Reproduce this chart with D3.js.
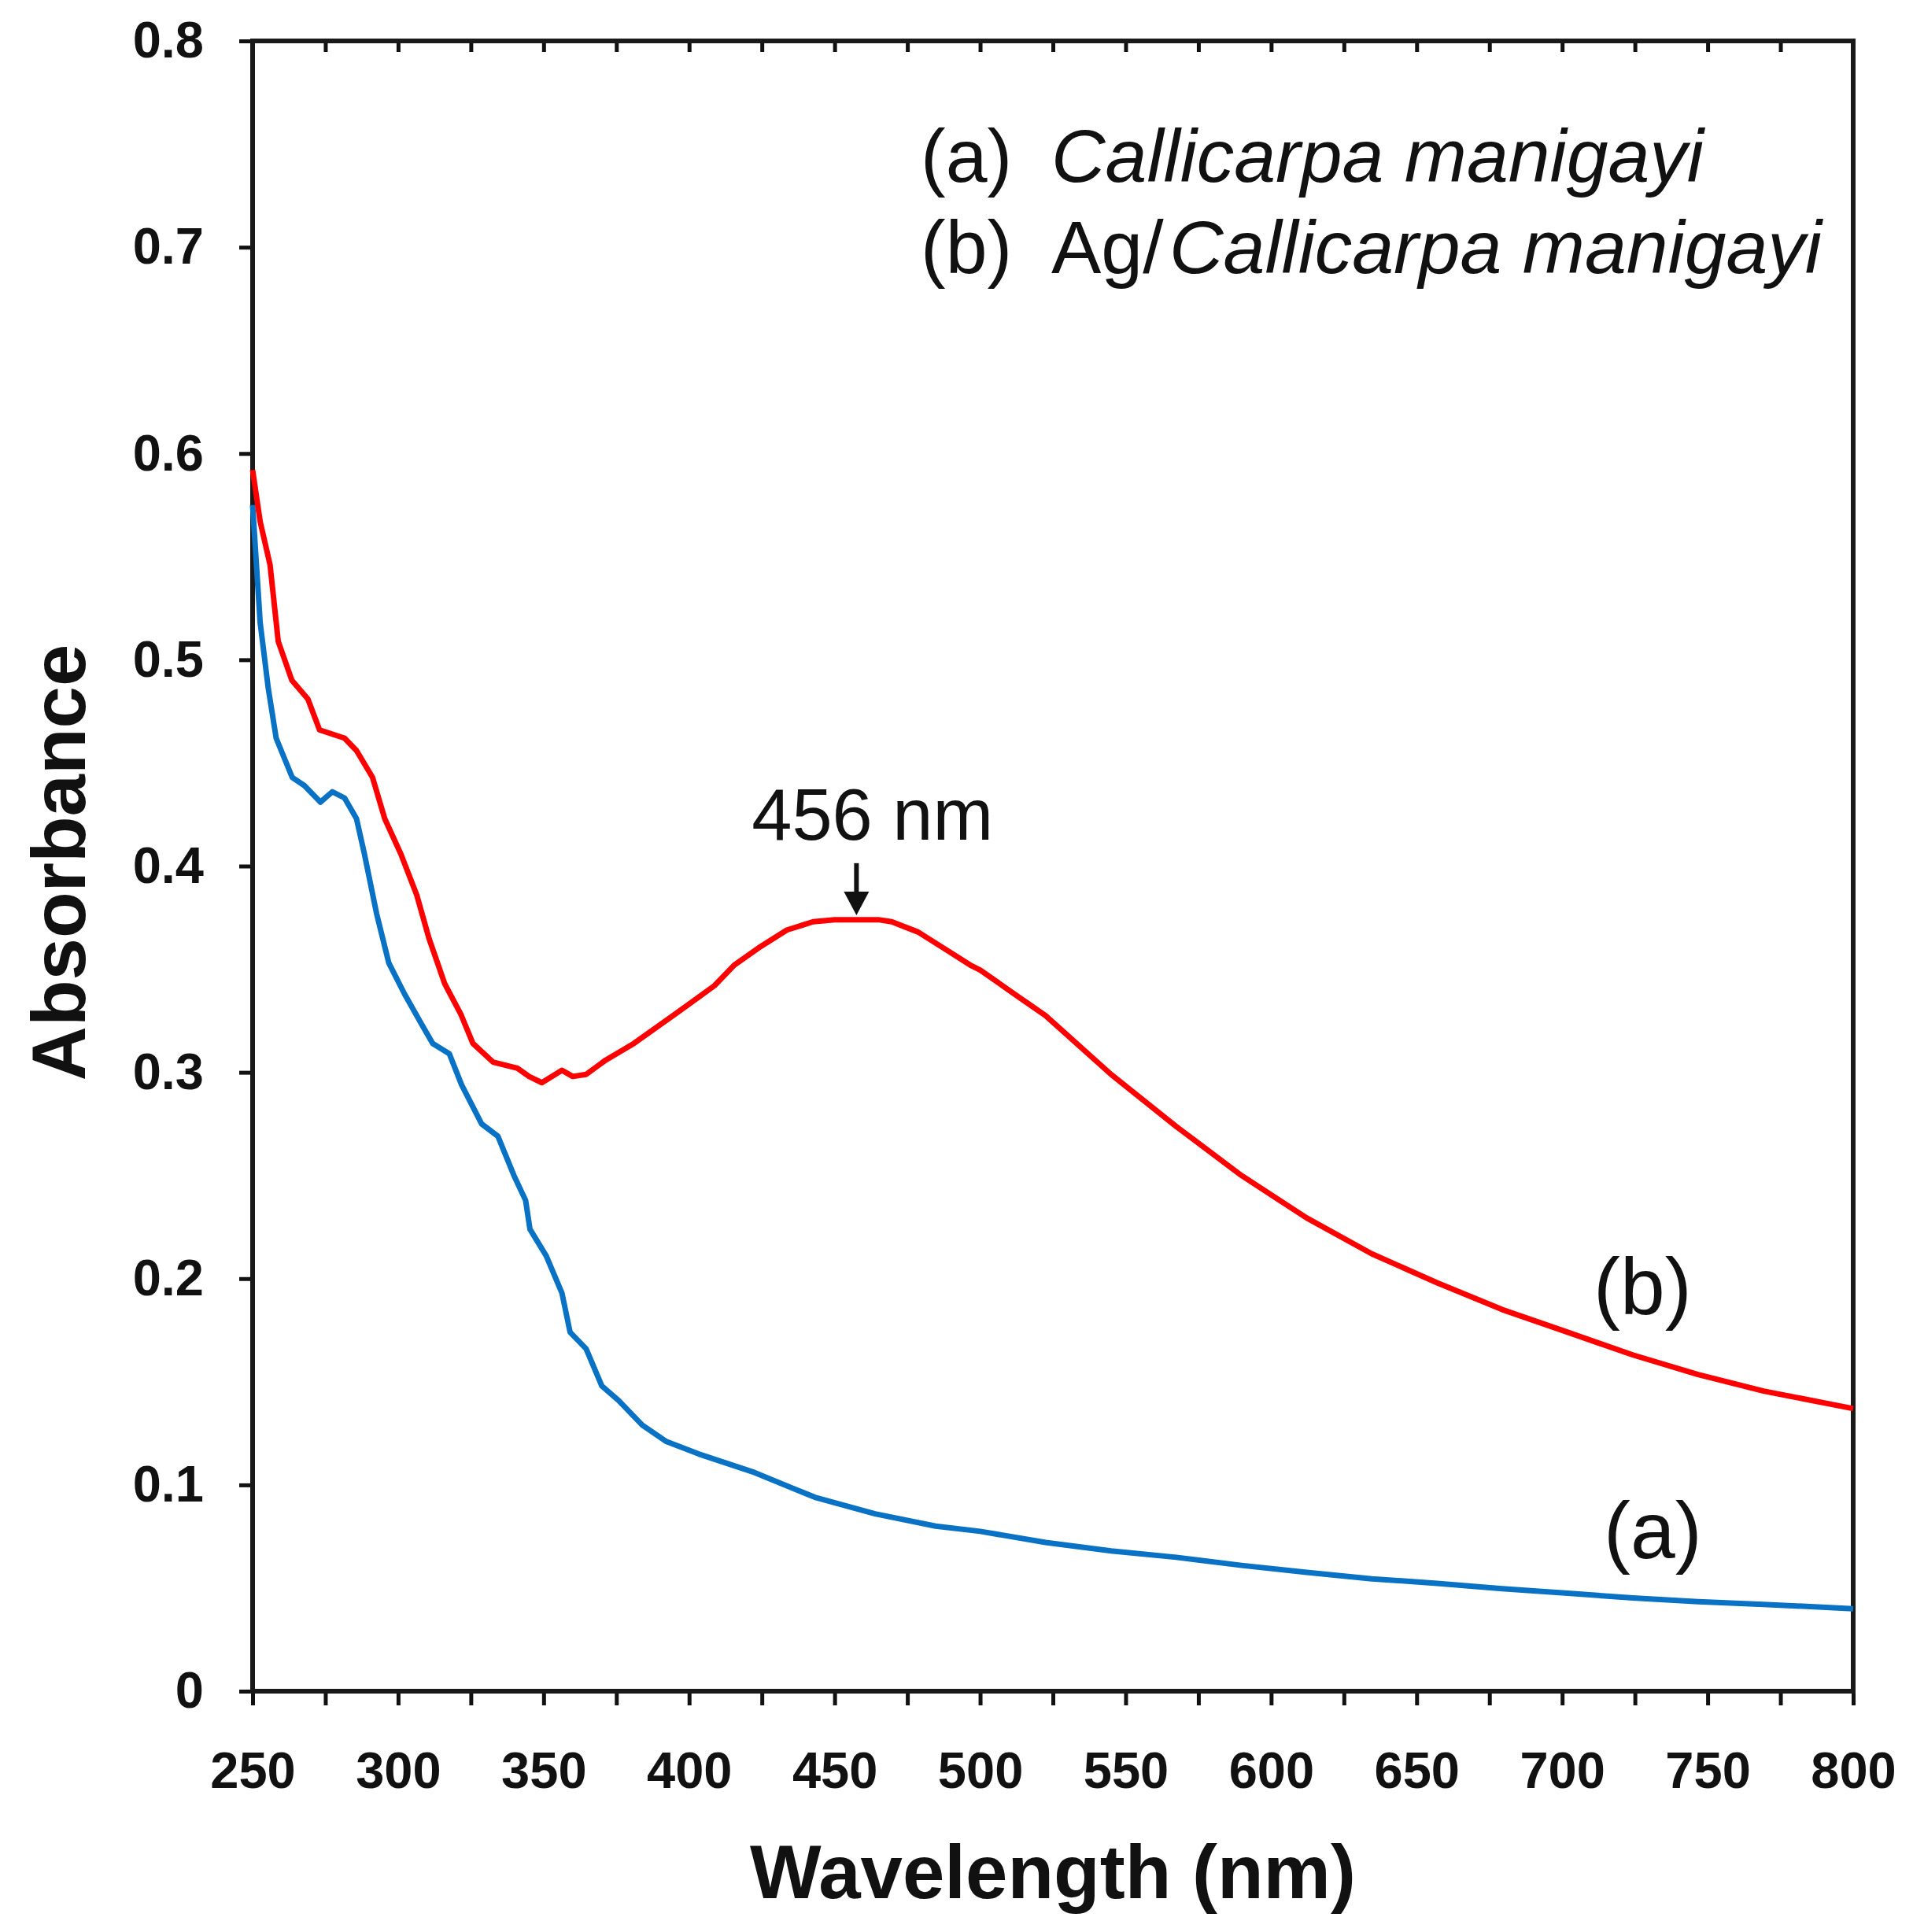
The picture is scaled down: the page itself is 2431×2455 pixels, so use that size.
<!DOCTYPE html>
<html>
<head>
<meta charset="utf-8">
<script src="https://cdn.jsdelivr.net/npm/d3@7"></script>
<style>
  body { margin: 0; background: #fff; }
  svg { display: block; }
  text { font-family: "Liberation Sans", Arial, sans-serif; }
</style>
</head>
<body>
<svg id="chart"></svg>
<script>
// (a) Callicarpa manigayi extract
var wavelengthA = [250, 252.6, 255.4, 258.1, 263.6, 267.8, 273.3, 277.4, 281.6, 285.7,
  288.4, 292.6, 296.8, 302.2, 307.8, 311.9, 317.6, 321.8, 328.7, 334.3,
  339.8, 343.8, 345.3, 350.9, 356.3, 359.1, 364.6, 370, 375.7, 383.9,
  392.2, 403.3, 422.5, 443.2, 463.9, 484.7, 500, 522.5, 545, 567.4,
  589.8, 612.2, 634.6, 657, 679.4, 701.9, 724.3, 746.7, 769.2, 800];
var absorbA = [0.575, 0.518, 0.486, 0.462, 0.443, 0.439, 0.431, 0.436, 0.433, 0.423,
  0.406, 0.377, 0.353, 0.338, 0.324, 0.314, 0.309, 0.294, 0.275, 0.269,
  0.250, 0.238, 0.224, 0.211, 0.193, 0.174, 0.166, 0.148, 0.141, 0.129,
  0.121, 0.115, 0.106, 0.094, 0.086, 0.080, 0.0775, 0.0721, 0.068, 0.0649,
  0.061, 0.0576, 0.0545, 0.0523, 0.0497, 0.0475, 0.0452, 0.0434, 0.0421, 0.040];

// (b) Ag/Callicarpa manigayi
var wavelengthB = [250, 252.6, 256, 258.8, 263.5, 269, 273, 281.6, 285.7, 291.2,
  295.4, 300.9, 306.4, 310.6, 316, 321.6, 325.7, 332.6, 341, 345,
  349.4, 356.3, 360, 364.6, 371.4, 381, 395, 408.7, 415.5, 424.6,
  433.6, 442.6, 450, 457, 465, 469.6, 478.7, 487.7, 496.6, 500,
  513.8, 522.5, 545, 567.4, 589.8, 612.2, 634.6, 657, 679.4, 701.9,
  724.3, 746.7, 769.2, 800];
var absorbB = [0.592, 0.567, 0.546, 0.509, 0.490, 0.481, 0.466, 0.462, 0.456, 0.443,
  0.423, 0.406, 0.386, 0.365, 0.343, 0.328, 0.314, 0.305, 0.302, 0.298,
  0.295, 0.301, 0.298, 0.299, 0.306, 0.314, 0.328, 0.342, 0.352, 0.361,
  0.369, 0.373, 0.374, 0.374, 0.374, 0.373, 0.368, 0.360, 0.352, 0.3496,
  0.336, 0.3275, 0.299, 0.2737, 0.250, 0.2294, 0.212, 0.198, 0.185, 0.174,
  0.163, 0.1535, 0.1455, 0.137];

var xTicks = d3.range(250, 801, 25);
var xLabels = [250, 300, 350, 400, 450, 500, 550, 600, 650, 700, 750, 800];
var yTicks = [0, 0.1, 0.2, 0.3, 0.4, 0.5, 0.6, 0.7, 0.8];
var yLabels = ["0", "0.1", "0.2", "0.3", "0.4", "0.5", "0.6", "0.7", "0.8"];

var peakWavelength = 456;

var W = 2431, H = 2455;
var margin = {top: 52, right: 76, bottom: 306, left: 321};

var svg = d3.select("#chart").attr("width", W).attr("height", H);

var x = d3.scaleLinear().domain([250, 800]).range([margin.left, W - margin.right]);
var y = d3.scaleLinear().domain([0, 0.8]).range([H - margin.bottom, margin.top]);

// bottom axis, ticks every 25 nm, labels every 50
var xAxis = svg.append("g")
  .attr("transform", "translate(0," + y(0) + ")")
  .call(d3.axisBottom(x)
    .tickValues(xTicks)
    .tickSize(18)
    .tickPadding(59)
    .tickFormat(function(d) { return xLabels.indexOf(d) >= 0 ? d : ""; }));

// top axis, inward ticks only
var topAxis = svg.append("g")
  .attr("transform", "translate(0," + y(0.8) + ")")
  .call(d3.axisTop(x).tickValues(xTicks).tickSize(-14).tickFormat(""));

var yAxis = svg.append("g")
  .attr("transform", "translate(" + x(250) + ",0)")
  .call(d3.axisLeft(y)
    .tickValues(yTicks)
    .tickSize(17)
    .tickPadding(45)
    .tickFormat(function(d, i) { return yLabels[i]; }));

[xAxis, topAxis, yAxis].forEach(function(a) {
  a.select(".domain").remove();
  a.selectAll(".tick line").attr("stroke", "#111").attr("stroke-width", 5);
  a.selectAll(".tick text")
    .attr("fill", "#111")
    .style("font-size", "65px")
    .style("font-weight", "bold");
});

// frame
svg.append("rect")
  .attr("x", x(250))
  .attr("y", y(0.8))
  .attr("width", x(800) - x(250))
  .attr("height", y(0) - y(0.8))
  .attr("fill", "none")
  .attr("stroke", "#1a1a1a")
  .attr("stroke-width", 6);

// spectra
var line = d3.line()
  .x(function(d) { return x(d[0]); })
  .y(function(d) { return y(d[1]); });

var seriesA = d3.zip(wavelengthA, absorbA);
var seriesB = d3.zip(wavelengthB, absorbB);

svg.append("path")
  .datum(seriesA)
  .attr("d", line)
  .attr("fill", "none")
  .attr("stroke", "#0a72c4")
  .attr("stroke-width", 7)
  .attr("stroke-linejoin", "round");

svg.append("path")
  .datum(seriesB)
  .attr("d", line)
  .attr("fill", "none")
  .attr("stroke", "#ff0000")
  .attr("stroke-width", 7)
  .attr("stroke-linejoin", "round");

// axis titles
svg.append("text")
  .attr("x", (x(250) + x(800)) / 2)
  .attr("y", 2412)
  .attr("text-anchor", "middle")
  .style("font-size", "96px")
  .style("font-weight", "bold")
  .attr("fill", "#111")
  .text("Wavelength (nm)");

svg.append("text")
  .attr("transform", "translate(108," + 1096 + ") rotate(-90)")
  .attr("text-anchor", "middle")
  .style("font-size", "96px")
  .style("font-weight", "bold")
  .attr("fill", "#111")
  .text("Absorbance");

// peak annotation
svg.append("text")
  .attr("x", x(463))
  .attr("y", y(0.4128))
  .attr("text-anchor", "middle")
  .style("font-size", "92px")
  .attr("fill", "#111")
  .text(peakWavelength + " nm");

var ax = x(457.5), ay0 = y(0.4014), ay1 = y(0.3762);
svg.append("line")
  .attr("x1", ax).attr("x2", ax)
  .attr("y1", ay0).attr("y2", ay1 - 20)
  .attr("stroke", "#111")
  .attr("stroke-width", 6);
svg.append("path")
  .attr("d", "M" + (ax - 16) + "," + (ay1 - 30) + "L" + (ax + 16) + "," + (ay1 - 30) + "L" + ax + "," + ay1 + "Z")
  .attr("fill", "#111");

// curve labels
svg.append("text")
  .attr("x", x(710.8)).attr("y", y(0.1828))
  .style("font-size", "102px").attr("fill", "#111")
  .text("(b)");
svg.append("text")
  .attr("x", x(714.3)).attr("y", y(0.0645))
  .style("font-size", "102px").attr("fill", "#111")
  .text("(a)");

// legend
var legend = svg.append("g").style("font-size", "95px").attr("fill", "#111");
var l1 = legend.append("text").attr("y", 231);
l1.append("tspan").attr("x", 1170).text("(a)");
l1.append("tspan").attr("x", 1336).style("font-style", "italic").text("Callicarpa manigayi");
var l2 = legend.append("text").attr("y", 347);
l2.append("tspan").attr("x", 1170).text("(b)");
l2.append("tspan").attr("x", 1336).text("Ag/");
l2.append("tspan").attr("x", 1486).style("font-style", "italic").text("Callicarpa manigayi");
</script>
</body>
</html>
